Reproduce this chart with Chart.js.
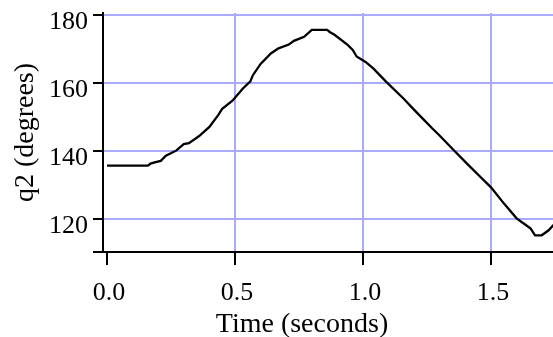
<!DOCTYPE html>
<html>
<head>
<meta charset="utf-8">
<script src="https://cdn.jsdelivr.net/npm/chart.js@4/dist/chart.umd.min.js"></script>
<style>
  html, body { margin: 0; padding: 0; background: #fff; }
  #wrap { width: 553px; height: 337px; }
</style>
</head>
<body>
<div id="wrap"><canvas id="jointChart" width="553" height="337"></canvas></div>
<script>
// joint angle q2 over time
const timeSec = [
    0.00, 0.16, 0.17, 0.19, 0.21, 0.23, 0.27, 0.30, 0.32, 0.36,
    0.40, 0.435, 0.45, 0.49, 0.53, 0.56, 0.57, 0.60, 0.64, 0.67,
    0.71, 0.73, 0.77, 0.80, 0.86, 0.87, 0.89, 0.94, 0.96, 0.975,
    1.01, 1.04, 1.09, 1.16, 1.20, 1.24, 1.27, 1.30, 1.35, 1.41,
    1.45, 1.50, 1.55, 1.60, 1.64, 1.655, 1.672, 1.698, 1.724, 1.745
];
const q2Deg = [
    135.7, 135.7, 136.3, 136.7, 137.1, 138.6, 140.1, 142.0, 142.3, 144.4,
    147.1, 150.6, 152.4, 154.8, 158.3, 160.5, 162.3, 165.6, 168.7, 170.2,
    171.3, 172.4, 173.6, 175.6, 175.6, 175.0, 174.1, 171.2, 169.7, 167.8,
    166.2, 164.3, 160.4, 155.3, 152.1, 149.0, 146.7, 144.5, 140.6, 136.0,
    133.0, 129.3, 124.6, 120.2, 118.0, 117.2, 115.2, 115.2, 116.6, 118.3
];
const xTicks = [0, 0.5, 1.0, 1.5];
const yTicks = [120, 140, 160, 180];
const xRange = [-0.015625, 1.7422];
const yRange = [110.29, 180.59];

const gridBlue = '#aaaaff';
const serif = 'Liberation Serif';
const xTitle = 'Time (seconds)';

const tickVal = ctx => (ctx && ctx.tick) ? ctx.tick.value : null;

// x title centred under the labelled ticks rather than the whole axis
const xTitlePlugin = {
    id: 'xTitle',
    afterDraw(chart) {
        const sx = chart.scales.x;
        const { ctx } = chart;
        const mid = (sx.getPixelForValue(xTicks[0]) + sx.getPixelForValue(xTicks[xTicks.length - 1])) / 2 + 3;
        ctx.save();
        ctx.font = `28px "${serif}"`;
        ctx.fillStyle = '#000';
        ctx.textAlign = 'center';
        ctx.textBaseline = 'alphabetic';
        ctx.fillText(xTitle, mid, sx.bottom - 5.5);
        ctx.restore();
    }
};

const points = timeSec.map((t, i) => ({ x: t, y: q2Deg[i] }));

new Chart(document.getElementById('jointChart'), {
    type: 'line',
    data: {
        datasets: [{
            data: points,
            borderColor: '#000',
            borderWidth: 2.3,
            pointRadius: 0,
            tension: 0,
            fill: false
        }]
    },
    options: {
        responsive: false,
        devicePixelRatio: 1,
        animation: false,
        layout: { autoPadding: false, padding: { top: 13, left: 0, right: 0, bottom: 0 } },
        plugins: { legend: { display: false }, tooltip: { enabled: false } },
        scales: {
            x: {
                type: 'linear',
                min: xRange[0],
                max: xRange[1],
                afterBuildTicks: scale => { scale.ticks = xTicks.map(v => ({ value: v })); },
                afterFit: scale => { scale.height = 85; scale.paddingLeft = 0; scale.paddingRight = 0; },
                border: { color: '#000', width: 2 },
                grid: {
                    color: ctx => tickVal(ctx) === 0 ? 'rgba(0,0,0,0)' : gridBlue,
                    lineWidth: 2,
                    tickColor: '#000',
                    tickWidth: 2,
                    tickLength: 13
                },
                ticks: {
                    font: { family: serif, size: 26 },
                    color: '#000',
                    padding: 13,
                    maxRotation: 0,
                    labelOffset: 2,
                    callback: v => v.toFixed(1)
                },
                title: { display: false }
            },
            y: {
                min: yRange[0],
                max: yRange[1],
                afterBuildTicks: scale => {
                    scale.ticks = [yRange[0]].concat(yTicks).map(v => ({ value: v }));
                },
                afterFit: scale => { scale.width = 103; scale.paddingTop = 0; scale.paddingBottom = 0; },
                border: { color: '#000', width: 2 },
                grid: {
                    color: ctx => tickVal(ctx) === yRange[0] ? 'rgba(0,0,0,0)' : gridBlue,
                    lineWidth: 2,
                    tickColor: '#000',
                    tickWidth: 2,
                    tickLength: 10
                },
                ticks: {
                    font: { family: serif, size: 26 },
                    color: '#000',
                    padding: 5,
                    labelOffset: 7,
                    callback: v => yTicks.includes(v) ? String(v) : ''
                },
                title: {
                    display: true,
                    text: 'q2 (degrees)',
                    color: '#000',
                    font: { family: serif, size: 28, lineHeight: 1 },
                    padding: { top: 11.5, bottom: 0 }
                }
            }
        }
    },
    plugins: [xTitlePlugin]
});
</script>
</body>
</html>
